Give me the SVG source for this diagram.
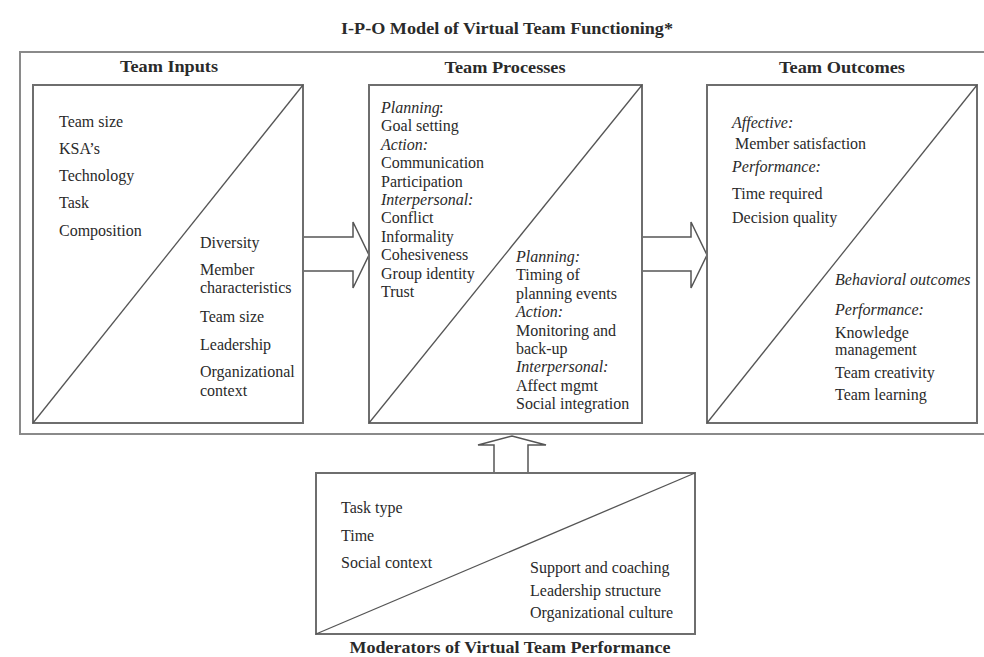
<svg xmlns="http://www.w3.org/2000/svg" width="984" height="657" viewBox="0 0 984 657">
<style>
  .frame{fill:none;stroke:#8a8a8a;stroke-width:2}
  .box{fill:#fff;stroke:#6e6e6e;stroke-width:2}
  .diag{stroke:#555;stroke-width:1.3;fill:none}
  .arrow{fill:#fff;stroke:#555;stroke-width:1.5;stroke-linejoin:miter}
  text{font-family:"Liberation Serif","Times New Roman",serif;fill:#2a2a2a}
  .t{font-size:16px}
  .i{font-size:16px;font-style:italic}
  .h{font-size:16px;font-weight:bold;text-anchor:middle}
</style>
<rect width="984" height="657" fill="#fff"/>
<text class="h" x="507" y="34" textLength="332" lengthAdjust="spacingAndGlyphs">I-P-O Model of Virtual Team Functioning*</text>
<rect class="frame" x="20" y="52" width="990" height="382"/>

<g id="connectors">
  <polygon class="arrow" points="303,237 353,237 353,222 369,255 353,288 353,271 303,271"/>
  <polygon class="arrow" points="642,237 691,237 691,222 707,255 691,288 691,271 642,271"/>
  <polygon class="arrow" points="494,473 494,445 478,445 512,436 546,445 528,445 528,473"/>
</g>

<g id="team-inputs">
  <text class="h" x="169" y="72" textLength="98" lengthAdjust="spacingAndGlyphs">Team Inputs</text>
  <rect class="box" x="33" y="85" width="270" height="338"/>
  <line class="diag" x1="33" y1="423" x2="303" y2="85"/>
  <text class="t" x="59" y="127">Team size</text>
  <text class="t" x="59" y="154">KSA’s</text>
  <text class="t" x="59" y="181">Technology</text>
  <text class="t" x="59" y="208">Task</text>
  <text class="t" x="59" y="236">Composition</text>
  <text class="t" x="200" y="248">Diversity</text>
  <text class="t" x="200" y="275">Member</text>
  <text class="t" x="200" y="293">characteristics</text>
  <text class="t" x="200" y="322">Team size</text>
  <text class="t" x="200" y="350">Leadership</text>
  <text class="t" x="200" y="377">Organizational</text>
  <text class="t" x="200" y="396">context</text>
</g>

<g id="team-processes">
  <text class="h" x="505" y="73" textLength="121" lengthAdjust="spacingAndGlyphs">Team Processes</text>
  <rect class="box" x="369" y="85" width="273" height="338"/>
  <line class="diag" x1="369" y1="423" x2="642" y2="85"/>
  <text class="i" x="381" y="113">Planning</text><text class="t" x="439" y="113">:</text>
  <text class="t" x="381" y="131">Goal setting</text>
  <text class="i" x="381" y="150">Action:</text>
  <text class="t" x="381" y="168">Communication</text>
  <text class="t" x="381" y="187">Participation</text>
  <text class="i" x="381" y="205">Interpersonal:</text>
  <text class="t" x="381" y="223">Conflict</text>
  <text class="t" x="381" y="242">Informality</text>
  <text class="t" x="381" y="260">Cohesiveness</text>
  <text class="t" x="381" y="279">Group identity</text>
  <text class="t" x="381" y="297">Trust</text>
  <text class="i" x="516" y="262">Planning:</text>
  <text class="t" x="516" y="280">Timing of</text>
  <text class="t" x="516" y="299">planning events</text>
  <text class="i" x="516" y="317">Action:</text>
  <text class="t" x="516" y="336">Monitoring and</text>
  <text class="t" x="516" y="354">back-up</text>
  <text class="i" x="516" y="372">Interpersonal:</text>
  <text class="t" x="516" y="391">Affect mgmt</text>
  <text class="t" x="516" y="409">Social integration</text>
</g>

<g id="team-outcomes">
  <text class="h" x="842" y="73" textLength="126" lengthAdjust="spacingAndGlyphs">Team Outcomes</text>
  <rect class="box" x="707" y="85" width="270" height="338"/>
  <line class="diag" x1="707" y1="423" x2="977" y2="85"/>
  <text class="i" x="732" y="128">Affective:</text>
  <text class="t" x="735" y="149">Member satisfaction</text>
  <text class="i" x="732" y="172">Performance:</text>
  <text class="t" x="732" y="199">Time required</text>
  <text class="t" x="732" y="223">Decision quality</text>
  <text class="i" x="835" y="285">Behavioral outcomes</text>
  <text class="i" x="835" y="315">Performance:</text>
  <text class="t" x="835" y="338">Knowledge</text>
  <text class="t" x="835" y="355">management</text>
  <text class="t" x="835" y="378">Team creativity</text>
  <text class="t" x="835" y="400">Team learning</text>
</g>

<g id="moderators">
  <rect class="box" x="316" y="473" width="379" height="161"/>
  <line class="diag" x1="316" y1="634" x2="695" y2="473"/>
  <text class="t" x="341" y="513">Task type</text>
  <text class="t" x="341" y="541">Time</text>
  <text class="t" x="341" y="568">Social context</text>
  <text class="t" x="530" y="573">Support and coaching</text>
  <text class="t" x="530" y="596">Leadership structure</text>
  <text class="t" x="530" y="618">Organizational culture</text>
  <text class="h" x="510" y="653" textLength="321" lengthAdjust="spacingAndGlyphs">Moderators of Virtual Team Performance</text>
</g>
</svg>
